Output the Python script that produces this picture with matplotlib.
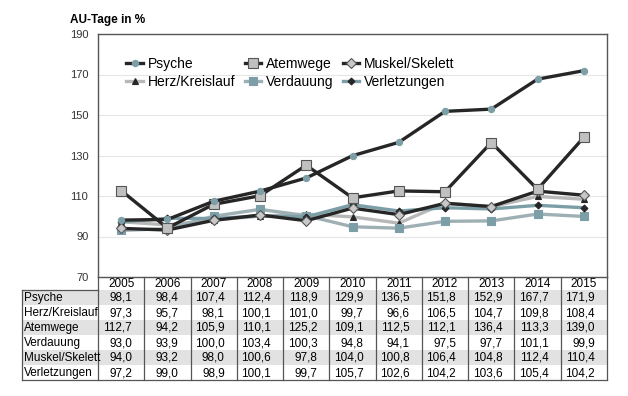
import matplotlib
matplotlib.use("Agg")
import matplotlib.pyplot as plt
from matplotlib.patches import Rectangle
import numpy as np

plt.rcParams["font.family"] = ["Liberation Sans", "DejaVu Sans"]

years = ["2005", "2006", "2007", "2008", "2009", "2010", "2011", "2012", "2013", "2014", "2015"]

psyche = [98.1, 98.4, 107.4, 112.4, 118.9, 129.9, 136.5, 151.8, 152.9, 167.7, 171.9]
herz = [97.3, 95.7, 98.1, 100.1, 101.0, 99.7, 96.6, 106.5, 104.7, 109.8, 108.4]
atemwege = [112.7, 94.2, 105.9, 110.1, 125.2, 109.1, 112.5, 112.1, 136.4, 113.3, 139.0]
verdauung = [93.0, 93.9, 100.0, 103.4, 100.3, 94.8, 94.1, 97.5, 97.7, 101.1, 99.9]
muskel = [94.0, 93.2, 98.0, 100.6, 97.8, 104.0, 100.8, 106.4, 104.8, 112.4, 110.4]
verletzungen = [97.2, 99.0, 98.9, 100.1, 99.7, 105.7, 102.6, 104.2, 103.6, 105.4, 104.2]

row_names = ["Psyche", "Herz/Kreislauf", "Atemwege", "Verdauung", "Muskel/Skelett", "Verletzungen"]

TEAL = "#7c9fa7"
DARK = "#262626"

def fmt(v):
    return ("%.1f" % v).replace(".", ",")

def main():
    fig = plt.figure(figsize=(6.28, 3.96), dpi=100)
    W, H = 628.0, 396.0
    left, right, top, bottom = 98, 607, 34, 277
    ax = fig.add_axes([left / W, 1 - bottom / H, (right - left) / W, (bottom - top) / H])

    x = np.arange(len(years))

    # styles: (data, label, line colour, marker, marker face, marker edge, size)
    series = [
        (herz, "Herz/Kreislauf", "#b8b8b8", "^", DARK, DARK, 4.5),
        (verdauung, "Verdauung", "#9fb0b4", "s", TEAL, TEAL, 5.5),
        (verletzungen, "Verletzungen", TEAL, "D", DARK, DARK, 3.5),
        (muskel, "Muskel/Skelett", DARK, "D", "#c8c8c8", "#555555", 5.5),
        (atemwege, "Atemwege", DARK, "s", "#c0c0c0", "#555555", 7),
        (psyche, "Psyche", DARK, "o", TEAL, TEAL, 4.5),
    ]
    handles = {}
    for data, name, lc, mk, mf, me, ms in series:
        h, = ax.plot(x, data, color=lc, lw=2.4, marker=mk, markerfacecolor=mf,
                     markeredgecolor=me, markersize=ms, markeredgewidth=0.8, label=name)
        handles[name] = h

    ax.set_xlim(-0.5, len(years) - 0.5)
    ax.set_ylim(70, 190)
    ax.set_yticks(np.arange(70, 191, 20))
    ax.tick_params(axis="y", length=0, labelsize=8, colors="#333333", pad=7)
    ax.set_xticks([])
    ax.grid(axis="y", color="#e6e6e6", lw=0.8)
    ax.set_axisbelow(True)
    for s in ax.spines.values():
        s.set_color("#555555")
        s.set_linewidth(1)

    order = ["Psyche", "Herz/Kreislauf", "Atemwege", "Verdauung", "Muskel/Skelett", "Verletzungen"]
    ax.legend([handles[n] for n in order], order, ncol=3, frameon=False,
              loc="upper left", bbox_to_anchor=(0.045, 0.928), fontsize=10,
              handlelength=1.2, handletextpad=0.35, columnspacing=0.65,
              labelspacing=0.25, borderaxespad=0)

    fig.text(70 / W, 1 - 20 / H, "AU-Tage in %", fontsize=8.5, fontweight="bold",
             ha="left", va="center")

    # table under the chart, y in pixels from the axes bottom
    tbl_bottom = 380
    tab = fig.add_axes([left / W, 1 - tbl_bottom / H, (right - left) / W, (tbl_bottom - bottom) / H])
    tab.set_xlim(-0.5, len(years) - 0.5)
    tab.set_ylim(tbl_bottom - bottom, 0)
    tab.axis("off")

    colw = (right - left) / len(years)
    label_left = -0.5 - (left - 22) / colw
    head_h = 13
    row_h = 15
    tab_h = tbl_bottom - bottom
    line_c = "#555555"

    values = [psyche, herz, atemwege, verdauung, muskel, verletzungen]
    for i, (name, vals) in enumerate(zip(row_names, values)):
        y0 = head_h + i * row_h
        if i % 2 == 0:
            tab.add_patch(Rectangle((label_left, y0), len(years) - 0.5 - label_left, row_h,
                                    facecolor="#e2e2e2", edgecolor="none", clip_on=False))
        tab.text(label_left + 0.04, y0 + row_h / 2 + 0.5, name, fontsize=8.5,
                 ha="left", va="center", clip_on=False)
        for j, v in enumerate(vals):
            tab.text(j + 0.24, y0 + row_h / 2 + 0.5, fmt(v), fontsize=8.5,
                     ha="right", va="center")

    for j, yr in enumerate(years):
        tab.text(j, head_h / 2 + 0.5, yr, fontsize=8.5, ha="center", va="center")

    # grid lines of the table
    for j in range(len(years) + 1):
        tab.plot([j - 0.5, j - 0.5], [0, tab_h], color=line_c, lw=0.9, clip_on=False)
    tab.plot([label_left, len(years) - 0.5], [tab_h, tab_h], color=line_c, lw=0.9, clip_on=False)
    tab.plot([label_left, -0.5], [head_h, head_h], color=line_c, lw=0.9, clip_on=False)
    tab.plot([label_left, label_left], [head_h, tab_h], color=line_c, lw=0.9, clip_on=False)

    fig.savefig("out.png", dpi=100)

if __name__ == "__main__":
    main()
